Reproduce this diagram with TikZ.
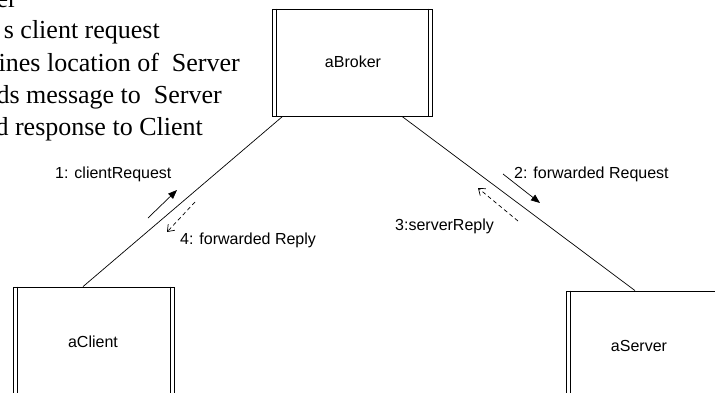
\documentclass[tikz,border=0pt]{standalone}
\usepackage{fontspec}
\setmainfont{Liberation Serif}
\newfontfamily\labelfont{Liberation Sans}
\usetikzlibrary{arrows.meta}

\tikzset{
  objbox/.style={draw, line width=0.8pt, inner sep=0pt},
  sidebar/.style={line width=0.8pt},
  link/.style={line width=0.7pt},
  msg/.style={line width=0.7pt, -{Triangle[length=9pt,width=7pt]}},
  reply/.style={line width=0.7pt, dash pattern=on 4pt off 3pt,
                -{Straight Barb[length=6pt,width=9pt,line width=0.7pt]}},
  msglabel/.style={font=\labelfont\fontsize{16}{19}\selectfont, inner sep=0pt},
  note/.style={font=\fontsize{26}{32}\selectfont, inner sep=0pt, anchor=base east}
}

\begin{document}
\begin{tikzpicture}[x=1pt,y=1pt]
\useasboundingbox (0,0) rectangle (715,392);
\clip (0,0) rectangle (715,392);

% responsibilities of the broker
\node[note] (n0) at (17,384) {er};
\node[note] (n1) at (160,353) {s client request};
\node[note] (n2) at (240,321) {ines location of\ \ Server};
\node[note] (n3) at (222,289) {ds message to\ \ Server};
\node[note] (n4) at (203,257) {d response to Client};

% active objects
\node[objbox, minimum width=160pt, minimum height=107pt] (broker) at (352,329.5) {};
\node[objbox, minimum width=161pt, minimum height=108pt] (client) at (93.5,51) {};
\node[objbox, minimum width=161pt, minimum height=108pt] (server) at (646.5,47) {};

\foreach \b in {broker,client,server}{
  \draw[sidebar] ([xshift=4.5pt]\b.north west) -- ([xshift=4.5pt]\b.south west);
  \draw[sidebar] ([xshift=-4.5pt]\b.north east) -- ([xshift=-4.5pt]\b.south east);
}

\node[msglabel, anchor=base] (lbroker) at (353,325) {aBroker};
\node[msglabel, anchor=base] (lclient) at (93,45) {aClient};
\node[msglabel, anchor=base] (lserver) at (639,41) {aServer};

% links
\draw[link] ([xshift=11pt]broker.south west) -- ([xshift=-10.5pt]client.north);
\draw[link] ([xshift=50pt]broker.south) -- ([xshift=-11.5pt]server.north);

% messages
\coordinate (m1s) at (148,174); \coordinate (m1e) at (177,202);
\coordinate (m4s) at (195,190); \coordinate (m4e) at (167,160);
\coordinate (m2s) at (503,218); \coordinate (m2e) at (540,189);
\coordinate (m3s) at (518,171); \coordinate (m3e) at (478,204);

\draw[msg] (m1s) -- (m1e);
\draw[reply] (m4s) -- (m4e);
\draw[msg] (m2s) -- (m2e);
\draw[reply] (m3s) -- (m3e);

\node[msglabel, anchor=base west] (t1) at (55,214) {1: clientRequest};
\node[msglabel, anchor=base west] (t2) at (514,214) {2: forwarded Request};
\node[msglabel, anchor=base west] (t4) at (180,148) {4: forwarded Reply};
\node[msglabel, anchor=base west] (t3) at (395,162) {3:serverReply};
\end{tikzpicture}
\end{document}
